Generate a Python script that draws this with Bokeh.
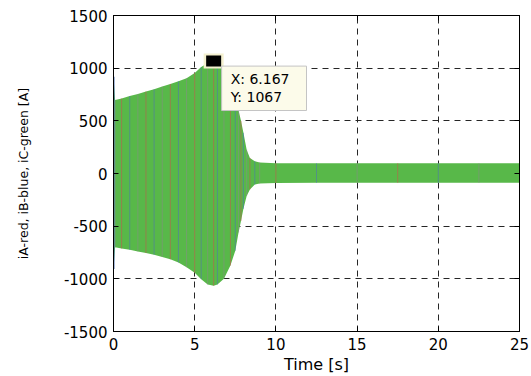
from bokeh.plotting import figure
from bokeh.models import Range1d, LinearAxis, FixedTicker, Label
from bokeh.embed import file_html
from bokeh.resources import INLINE

# ---- data (envelope of the three phase currents) ----
time_s = [0, 0.1, 0.5, 1.0, 1.5, 2.0, 2.5, 3.0, 3.5, 4.0, 4.5, 5.0, 5.4, 5.8, 6.167,
          6.4, 6.8, 7.2, 7.5, 7.7, 7.85, 8.0, 8.2, 8.4, 8.7, 9.0, 10, 12.5, 15,
          17.5, 20, 22.5, 25]
i_upper = [918, 698, 712, 735, 755, 778, 800, 825, 850, 875, 905, 955, 1010, 1050, 1067,
           1058, 1005, 885, 745, 600, 500, 386, 226, 148, 116, 104, 98, 97, 98,
           97, 98, 97, 98]
i_lower = [-906, -700, -712, -725, -740, -755, -772, -792, -815, -845, -890, -942, -1003, -1053, -1065,
           -1053, -1000, -874, -733, -560, -450, -335, -214, -151, -104, -95, -90, -88, -89,
           -88, -89, -88, -89]
phase_names = ["iA", "iB", "iC"]
phase_colors = ["#c9554f", "#4f72b5", "#58b849"]  # red, blue, green
x_ticks = [0, 5, 10, 15, 20, 25]
y_ticks = [-1500, -1000, -500, 0, 500, 1000, 1500]
tip_x = 6.167
tip_y = 1067

FONT = "DejaVu Sans"

p = figure(width=531, height=376, output_backend="svg", toolbar_location=None,
           x_range=Range1d(0, 25), y_range=Range1d(-1500, 1500),
           min_border_left=113, min_border_right=12, min_border_top=15, min_border_bottom=43)
p.background_fill_color = "white"
p.border_fill_color = "white"
p.outline_line_color = "black"
p.outline_line_width = 1

# grid
for g, t in ((p.xgrid, x_ticks), (p.ygrid, y_ticks)):
    g.ticker = FixedTicker(ticks=t)
    g.grid_line_color = "#262626"
    g.grid_line_dash = "6 5"
    g.grid_line_width = 1

# axes
def style_axis(ax, ticks, show_labels=True):
    ax.ticker = FixedTicker(ticks=ticks)
    ax.major_tick_in = 5
    ax.major_tick_out = 0
    ax.minor_tick_line_color = None
    ax.axis_line_color = "black"
    ax.major_tick_line_color = "black"
    ax.major_label_text_font = FONT
    ax.major_label_text_font_size = "15px"
    ax.major_label_text_color = "black" if show_labels else None
    ax.major_label_overrides = {t: str(t) for t in ticks}
    ax.axis_label_text_font = FONT
    ax.axis_label_text_font_style = "normal"
    ax.axis_label_text_color = "black"

style_axis(p.xaxis[0], x_ticks)
style_axis(p.yaxis[0], y_ticks)
p.xaxis[0].axis_label = "Time [s]"
p.xaxis[0].axis_label_text_font_size = "16px"
p.xaxis[0].major_label_standoff = 6
p.xaxis[0].axis_label_standoff = 2
p.yaxis[0].axis_label = "iA-red, iB-blue, iC-green [A]"
p.yaxis[0].axis_label_text_font_size = "12.5px"
p.yaxis[0].major_label_standoff = 6
p.yaxis[0].axis_label_standoff = 30

right_ax = LinearAxis()
style_axis(right_ax, y_ticks, show_labels=False)
right_ax.major_label_standoff = 0
p.add_layout(right_ax, "right")
top_ax = LinearAxis()
style_axis(top_ax, x_ticks, show_labels=False)
top_ax.major_label_standoff = 0
p.add_layout(top_ax, "above")

# band of the dense oscillating currents (green drawn last, covers the others)
p.varea(x=time_s, y1=i_lower, y2=i_upper, fill_color=phase_colors[2], fill_alpha=1.0)
# streaks of the other phases visible through the dense green
streak_cols = [phase_colors[1], "#8a8a8a", phase_colors[0]]
cols = [streak_cols[k % 3] for k in range(len(time_s))]
p.segment(x0=time_s[1:-1], y0=i_lower[1:-1], x1=time_s[1:-1], y1=i_upper[1:-1],
          line_color=cols[1:-1], line_width=1, line_alpha=0.55)
p.segment(x0=time_s[:1], y0=i_lower[:1], x1=time_s[:1], y1=i_upper[:1],
          line_color=phase_colors[1], line_width=2)

# data tip marker
p.rect(x=[tip_x], y=[tip_y], width=20, height=15, width_units="screen", height_units="screen",
       fill_color="#f4f0cf", line_color=None)
p.rect(x=[tip_x], y=[tip_y], width=15, height=11, width_units="screen", height_units="screen",
       fill_color="black", line_color=None)

tip = Label(x=tip_x, y=tip_y, x_offset=8, y_offset=-5,
            text=f"X: {tip_x}\nY: {tip_y}",
            text_font=FONT, text_font_size="14px", text_color="black",
            text_align="left", text_baseline="top", text_line_height=1.15,
            background_fill_color="#fcfbea", background_fill_alpha=1.0,
            border_line_color="#c4c4c4", border_line_width=1,
            padding=dict(left=9, right=17, top=5, bottom=5))
p.add_layout(tip)

open("out.html", "w").write(file_html(p, INLINE))
